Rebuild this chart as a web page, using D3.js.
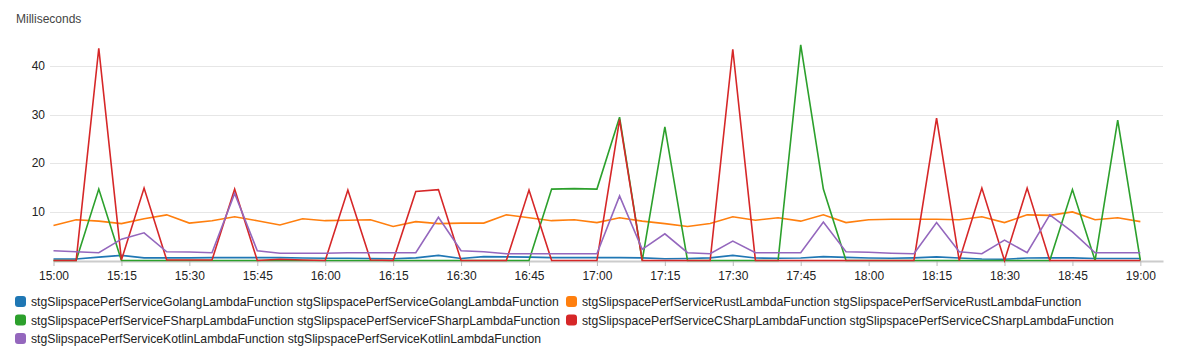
<!DOCTYPE html>
<html>
<head>
<meta charset="utf-8">
<script src="https://cdn.jsdelivr.net/npm/d3@7"></script>
<style>
  body { margin: 0; background: #fff; }
  svg { display: block; font-family: "Liberation Sans", Arial, Helvetica, sans-serif; }
</style>
</head>
<body>
<svg id="chart" width="1177" height="361"></svg>
<script>
(function (d3) {
  /* =============== DATA (5 minute periods from 15:00) =============== */
  var START = new Date(2019, 0, 1, 15, 0);
  var END = new Date(2019, 0, 1, 19, 5);

  var golang = [0.3, 0.3, 0.7, 1.05, 0.55, 0.55, 0.55, 0.6, 0.6, 0.6, 0.6, 0.5, 0.45,
    0.45, 0.4, 0.35, 0.55, 1.05, 0.4, 0.8, 0.75, 0.7, 0.6, 0.6, 0.6,
    0.6, 0.55, 0.35, 0.4, 0.55, 1.05, 0.5, 0.45, 0.5, 0.8, 0.65, 0.5,
    0.45, 0.55, 0.75, 0.5, 0.3, 0.25, 0.5, 0.55, 0.55, 0.4, 0.4, 0.4];
  var rust = [7.2, 8.4, 8.1, 7.6, 8.6, 9.4, 7.7, 8.2, 9.0, 8.2, 7.3, 8.6, 8.2,
    8.3, 8.4, 7.0, 8.0, 7.6, 7.7, 7.7, 9.4, 8.8, 8.2, 8.4, 7.8,
    8.8, 8.1, 7.6, 7.0, 7.6, 9.0, 8.3, 8.8, 8.1, 9.4, 7.8, 8.4,
    8.5, 8.5, 8.5, 8.4, 9.0, 7.8, 9.4, 9.3, 10.0, 8.4, 8.8, 8.0];
  var fsharp = [0, 0, 14.7, 0, 0, 0, 0, 0, 0, 0, 0, 0, 0,
    0, 0, 0, 0, 0, 0, 0, 0, 0, 14.7, 14.8, 14.7,
    29.5, 0, 27.5, 0, 0, 0, 0, 0, 44.4, 14.7, 0, 0,
    0, 0, 0, 0, 0, 0, 0, 0, 14.6, 0, 28.9, 0];
  var csharp = [0, 0, 43.7, 0.1, 14.9, 0.1, 0.1, 0.1, 14.7, 0, 0.25, 0.1, 0,
    14.5, 0.1, 0, 14.2, 14.6, 0, 0, 0, 14.5, 0, 0, 0,
    29, 0, 0, 0, 0, 43.5, 0, 0, 0, 0, 0, 0,
    0, 0, 29.3, 0, 14.9, 0, 14.9, 0, 0, 0, 0, 0];
  var kotlin = [2.0, 1.8, 1.6, 4.4, 5.7, 1.8, 1.75, 1.6, 13.8, 2.0, 1.5, 1.5, 1.5,
    1.6, 1.6, 1.6, 1.6, 8.9, 2.0, 1.8, 1.4, 1.4, 1.4, 1.4, 1.4,
    13.3, 2.3, 5.5, 1.6, 1.4, 4.0, 1.6, 1.6, 1.6, 7.9, 1.8, 1.7,
    1.5, 1.4, 7.8, 1.8, 1.4, 4.2, 1.6, 9.4, 5.9, 1.6, 1.6, 1.6];

  var names = ['Golang', 'Rust', 'FSharp', 'CSharp', 'Kotlin'];
  var colors = ['#1f77b4', '#ff7f0e', '#2ca02c', '#d62728', '#9467bd'];
  var yTicks = [10, 20, 30, 40];

  var series = [golang, rust, fsharp, csharp, kotlin].map(function (vals, k) {
    var fn = 'stgSlipspacePerfService' + names[k] + 'LambdaFunction';
    return {
      label: fn + ' ' + fn,
      color: colors[k],
      values: vals.map(function (v, i) {
        return { t: d3.timeMinute.offset(START, i * 5), v: v };
      })
    };
  });

  /* =============== SCALES =============== */
  var svg = d3.select('#chart');

  var x = d3.scaleTime()
    .domain([START, END])
    .range([53.5, 1163]);

  var y = d3.scaleLinear()
    .domain([0, 45.4])
    .range([260.5, 40]);

  svg.append('text')
    .attr('x', 16)
    .attr('y', 23)
    .attr('font-size', 12)
    .attr('fill', '#444')
    .text('Milliseconds');

  // horizontal grid + y labels
  var grid = svg.append('g');
  grid.selectAll('line')
    .data(yTicks)
    .enter().append('line')
    .attr('x1', 50)
    .attr('x2', 1163)
    .attr('y1', function (d) { return Math.round(y(d)) + 0.5; })
    .attr('y2', function (d) { return Math.round(y(d)) + 0.5; })
    .attr('stroke', '#e6e6e6');
  grid.selectAll('text')
    .data(yTicks)
    .enter().append('text')
    .attr('x', 45)
    .attr('y', function (d) { return y(d) + 4; })
    .attr('text-anchor', 'end')
    .attr('font-size', 12)
    .attr('fill', '#222')
    .text(function (d) { return d; });

  // x axis
  var xAxis = d3.axisBottom(x)
    .ticks(d3.timeMinute.every(15))
    .tickFormat(d3.timeFormat('%H:%M'))
    .tickSize(5)
    .tickSizeOuter(0);

  var gx = svg.append('g')
    .attr('transform', 'translate(0,261)')
    .call(xAxis);
  gx.select('.domain').attr('stroke', '#cccccc').attr('stroke-width', 2);
  gx.selectAll('.tick line').attr('stroke', '#bbbbbb');
  gx.selectAll('.tick text')
    .attr('font-size', 12)
    .attr('font-family', null)
    .attr('fill', '#222')
    .attr('dy', '0.9em');

  /* =============== LINES =============== */
  var line = d3.line()
    .x(function (d) { return x(d.t); })
    .y(function (d) { return y(d.v); });

  svg.append('g')
    .selectAll('path')
    .data(series)
    .enter().append('path')
    .attr('fill', 'none')
    .attr('stroke', function (d) { return d.color; })
    .attr('stroke-width', 1.6)
    .attr('stroke-linejoin', 'miter')
    .attr('d', function (d) { return line(d.values); });

  /* =============== LEGEND =============== */
  var legend = svg.append('g')
    .selectAll('g')
    .data(series)
    .enter().append('g')
    .attr('transform', function (d, i) {
      return 'translate(' + (i % 2 ? 566 : 15) + ',' + (301.5 + Math.floor(i / 2) * 18.5) + ')';
    });

  legend.append('rect')
    .attr('x', 0)
    .attr('y', -5.5)
    .attr('width', 11)
    .attr('height', 11)
    .attr('rx', 3)
    .attr('fill', function (d) { return d.color; });

  legend.append('text')
    .attr('x', 16)
    .attr('y', 4.5)
    .attr('font-size', 12.2)
    .attr('fill', '#222')
    .text(function (d) { return d.label; });

}(window.d3));
</script>
</body>
</html>
